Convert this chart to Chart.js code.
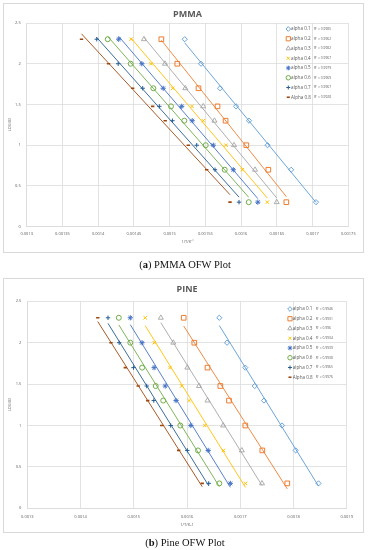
<!DOCTYPE html>
<html><head><meta charset="utf-8">
<script src="https://cdn.jsdelivr.net/npm/chart.js@4.4.1/dist/chart.umd.min.js"></script>
<style>
html,body{margin:0;padding:0;background:#fff;width:370px;height:550px;overflow:hidden;}
canvas{position:absolute;left:0;}
.box{position:absolute;left:3px;width:361px;border:1px solid #d9d9d9;box-sizing:border-box;pointer-events:none;}
.cap{position:absolute;left:0;width:370px;text-align:center;font-family:"Liberation Serif","DejaVu Serif",serif;font-size:10.5px;line-height:12px;color:#111;}
</style></head><body>
<canvas id="cA" width="370" height="260" style="top:0"></canvas>
<canvas id="cB" width="370" height="270" style="top:270px"></canvas>
<div class="box" style="top:3px;height:250px"></div>
<div class="box" style="top:278px;height:255px"></div>
<div class="cap" style="top:259px">(<b>a</b>) PMMA OFW Plot</div>
<div class="cap" style="top:537px">(<b>b</b>) Pine OFW Plot</div>
<script>
// ---------- data ----------
const seriesNames = ['alpha 0.1','alpha 0.2','alpha 0.3','alpha 0.4','alpha 0.5','alpha 0.6','alpha 0.7','Alpha 0.8'];
const logB = [2.301, 2.0, 1.699, 1.477, 1.301, 1.0, 0.699, 0.301];

const pmma01 = [0.0015211, 0.0015439, 0.0015705, 0.0015929, 0.0016111, 0.0016370, 0.0016701, 0.0017048];
const pmma02 = [0.0014884, 0.0015107, 0.0015404, 0.0015670, 0.0015783, 0.0016073, 0.0016381, 0.0016633];
const pmma03 = [0.0014641, 0.0014935, 0.0015219, 0.0015470, 0.0015627, 0.0015901, 0.0016195, 0.0016498];
const pmma04 = [0.0014460, 0.0014739, 0.0015043, 0.0015313, 0.0015471, 0.0015789, 0.0016017, 0.0016367];
const pmma05 = [0.0014287, 0.0014611, 0.0014910, 0.0015169, 0.0015316, 0.0015611, 0.0015891, 0.0016234];
const pmma06 = [0.0014134, 0.0014455, 0.0014772, 0.0015019, 0.0015205, 0.0015505, 0.0015771, 0.0016107];
const pmma07 = [0.0013980, 0.0014280, 0.0014623, 0.0014856, 0.0015039, 0.0015379, 0.0015635, 0.0015971];
const pmma08 = [0.0013767, 0.0014145, 0.0014483, 0.0014763, 0.0014938, 0.0015261, 0.0015519, 0.0015845];
const pmmaR2 = ['0.9985','0.9962','0.9982','0.9967','0.9979','0.9969','0.9967','0.9928'];

const pine01 = [0.0016607, 0.0016752, 0.0017095, 0.0017272, 0.0017447, 0.0017785, 0.0018042, 0.0018471];
const pine02 = [0.0015938, 0.0016137, 0.0016385, 0.0016626, 0.0016789, 0.0017095, 0.0017415, 0.0017884];
const pine03 = [0.0015508, 0.0015743, 0.0016006, 0.0016226, 0.0016385, 0.0016680, 0.0017030, 0.0017409];
const pine04 = [0.0015215, 0.0015386, 0.0015681, 0.0015901, 0.0016038, 0.0016335, 0.0016684, 0.0017099];
const pine05 = [0.0014935, 0.0015155, 0.0015382, 0.0015591, 0.0015794, 0.0016072, 0.0016398, 0.0016814];
const pine06 = [0.0014719, 0.0014935, 0.0015157, 0.0015412, 0.0015553, 0.0015874, 0.0016207, 0.0016607];
const pine07 = [0.0014516, 0.0014726, 0.0014995, 0.0015243, 0.0015376, 0.0015694, 0.0016006, 0.0016408];
const pine08 = [0.0014324, 0.0014572, 0.0014841, 0.0015083, 0.0015262, 0.0015525, 0.0015844, 0.0016286];
const pineR2 = ['0.9946','0.9931','0.996','0.9934','0.9939','0.9938','0.9965','0.9976'];

const pmmaXTicks = ['0.0013','0.00135','0.0014','0.00145','0.0015','0.00155','0.0016','0.00165','0.0017','0.00175'];
const pineXTicks = ['0.0013','0.0014','0.0015','0.0016','0.0017','0.0018','0.0019'];
const yTicks = ['0','0.5','1','1.5','2','2.5'];

// ---------- styles ----------
const colors = ['#5B9BD5','#ED7D31','#A5A5A5','#FFC000','#4472C4','#70AD47','#255E91','#9E480E'];
const pStyles = ['rectRot','rect','triangle','crossRot','star','circle','cross','line'];
const pRadius = [2.6, 3.3, 2.9, 2.4, 2.6, 2.5, 2.2, 1.7];
const pBorder = [0.9, 1.0, 0.9, 1.0, 1.0, 1.0, 1.0, 1.6];
const FONT = '"Open Sans","Liberation Sans",sans-serif';
const GRID = '#d9d9d9';
const TXT = '#595959';

function fitLine(xs, ys) {
  const n = xs.length;
  const mx = xs.reduce((a, b) => a + b, 0) / n;
  const my = ys.reduce((a, b) => a + b, 0) / n;
  let sxy = 0, sxx = 0;
  for (let i = 0; i < n; i++) { sxy += (xs[i] - mx) * (ys[i] - my); sxx += (xs[i] - mx) ** 2; }
  const b = sxy / sxx, a = my - b * mx;
  const x0 = Math.min(...xs), x1 = Math.max(...xs);
  return [{x: x0, y: a + b * x0}, {x: x1, y: a + b * x1}];
}

function buildDatasets(seriesList) {
  const ds = [];
  seriesList.forEach((xs, i) => {
    ds.push({
      label: seriesNames[i],
      data: xs.map((x, j) => ({x: x, y: logB[j]})),
      showLine: false,
      pointStyle: pStyles[i],
      pointRadius: pRadius[i],
      pointBorderWidth: pBorder[i],
      borderColor: colors[i],
      pointBorderColor: colors[i],
      pointBackgroundColor: 'rgba(255,255,255,0)',
      backgroundColor: 'rgba(255,255,255,0)'
    });
    ds.push({
      label: 'trend ' + seriesNames[i],
      data: fitLine(xs, logB),
      showLine: true,
      pointRadius: 0,
      borderColor: colors[i],
      borderWidth: 0.9,
      fill: false
    });
  });
  return ds;
}

const legendR2 = {
  id: 'legendR2',
  afterDraw(chart, args, o) {
    const ctx = chart.ctx;
    ctx.save();
    seriesNames.forEach((name, i) => {
      const y = o.top + i * o.step;
      ctx.strokeStyle = colors[i];
      ctx.fillStyle = 'rgba(255,255,255,0)';
      ctx.lineWidth = pBorder[i];
      const po = {pointStyle: pStyles[i], radius: pRadius[i] * 0.9, rotation: 0, borderWidth: pBorder[i]};
      if (Chart.helpers && Chart.helpers.drawPoint) {
        Chart.helpers.drawPoint(ctx, po, o.markerX, y);
      }
      ctx.fillStyle = TXT;
      ctx.textBaseline = 'middle';
      ctx.textAlign = 'left';
      ctx.font = '4.6px ' + FONT;
      ctx.fillText(name, o.textX, y);
      ctx.font = '3.3px ' + FONT;
      ctx.fillText('R\u00B2 = ' + o.r2[i], o.r2X, y);
    });
    ctx.restore();
  }
};

function makeChart(id, cfg) {
  return new Chart(document.getElementById(id), {
    type: 'scatter',
    data: {datasets: buildDatasets(cfg.series)},
    plugins: [legendR2],
    options: {
      responsive: false,
      animation: false,
      devicePixelRatio: 1,
      events: [],
      layout: {padding: {left: cfg.padL, right: cfg.padR, top: 0, bottom: cfg.padB}},
      plugins: {
        legend: {display: false},
        tooltip: {enabled: false},
        title: {
          display: true, text: cfg.title, fullSize: false,
          color: TXT, font: {family: FONT, size: 9, weight: 'bold'},
          padding: {top: cfg.titleTop, bottom: cfg.titleBottom}
        },
        legendR2: {markerX: cfg.legX, textX: cfg.legX + 2.8, r2X: cfg.r2X, top: cfg.legTop, step: 9.75, r2: cfg.r2}
      },
      scales: {
        x: {
          type: 'linear',
          min: parseFloat(cfg.xTicks[0]),
          max: parseFloat(cfg.xTicks[cfg.xTicks.length - 1]),
          afterBuildTicks: s => { s.ticks = cfg.xTicks.map(t => ({value: parseFloat(t)})); },
          afterFit: s => { s.height = cfg.xH; },
          ticks: {
            callback: (v, i) => cfg.xTicks[i],
            font: {family: FONT, size: 4}, color: TXT,
            padding: cfg.xTickPad, maxRotation: 0, autoSkip: false
          },
          grid: {color: GRID, lineWidth: 0.75, drawTicks: false},
          border: {color: GRID, width: 0.75},
          title: {display: true, text: cfg.xTitle, color: TXT, font: {family: FONT, size: 4}, padding: {top: 0, bottom: 0}}
        },
        y: {
          type: 'linear', min: 0, max: 2.5,
          afterBuildTicks: s => { s.ticks = yTicks.map(t => ({value: parseFloat(t)})); },
          afterFit: s => { s.width = cfg.yW; },
          ticks: {
            callback: (v, i) => yTicks[i],
            font: {family: FONT, size: 4}, color: TXT, padding: 6
          },
          grid: {color: GRID, lineWidth: 0.75, drawTicks: false},
          border: {color: GRID, width: 0.75},
          title: {display: true, text: 'LOG(B)', color: TXT, font: {family: FONT, size: 4}, padding: {top: 2.6, bottom: 0}}
        }
      }
    }
  });
}

makeChart('cA', {
  series: [pmma01, pmma02, pmma03, pmma04, pmma05, pmma06, pmma07, pmma08],
  r2: pmmaR2, title: 'PMMA', xTicks: pmmaXTicks, xTitle: '1/T/K\u207B\u00B9',
  padL: 5, yW: 21.7, padR: 21.7, padB: 15.6, xH: 17.7, xTickPad: 4.9,
  titleTop: 8.8, titleBottom: 3.4,
  legX: 288.3, r2X: 314, legTop: 29
});

makeChart('cB', {
  series: [pine01, pine02, pine03, pine04, pine05, pine06, pine07, pine08],
  r2: pineR2, title: 'PINE', xTicks: pineXTicks, xTitle: '1/T/K-1',
  padL: 5, yW: 22.3, padR: 23.3, padB: 12.6, xH: 19.1, xTickPad: 6.6,
  titleTop: 13.6, titleBottom: 6.9,
  legX: 290, r2X: 315.7, legTop: 39
});
</script>
</body></html>
